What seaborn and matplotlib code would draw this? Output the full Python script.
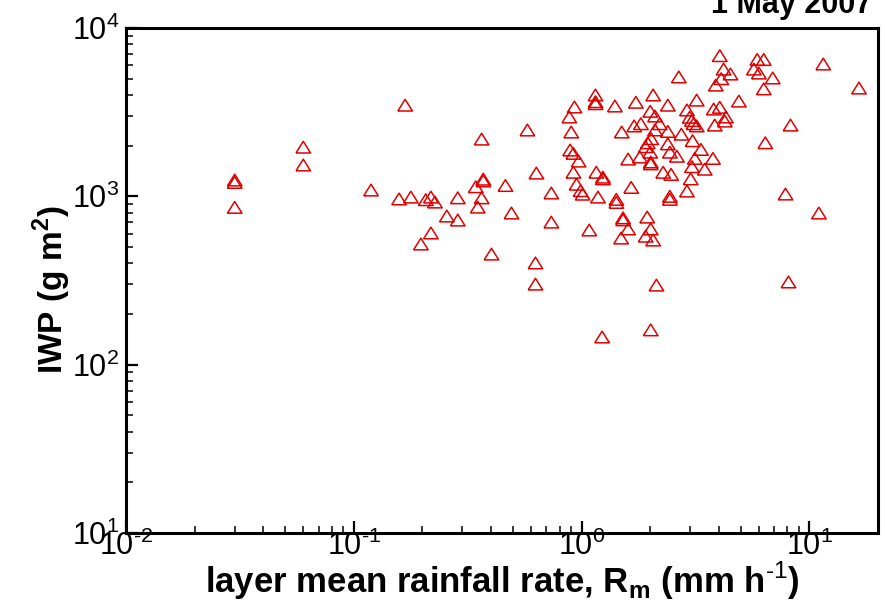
import numpy as np
import pandas as pd
import matplotlib
matplotlib.use("Agg")
import matplotlib.pyplot as plt
from matplotlib import font_manager
from matplotlib.markers import MarkerStyle
from matplotlib.ticker import LogLocator, FuncFormatter, NullFormatter
import seaborn as sns

# ---------------- data ----------------
rain_rate = [0.030, 0.030, 0.030, 0.060, 0.060, 0.119, 0.168, 0.158, 0.178, 0.207,
             0.218, 0.227, 0.197, 0.218, 0.256, 0.286, 0.286, 0.343, 0.370, 0.370,
             0.364, 0.350, 0.364, 0.402, 0.463, 0.492,
             0.578, 0.633, 0.627, 0.627, 0.736, 0.736, 0.930, 0.883, 0.900, 0.890,
             0.920, 0.970, 0.920, 0.950, 0.990, 1.010,
             1.150, 1.150, 1.150, 1.400, 1.730, 2.060, 1.160, 1.240, 1.240, 1.180,
             1.420, 1.420, 1.520, 1.520, 1.080, 1.490, 1.230, 1.500, 1.700, 1.820,
             1.600, 1.800, 1.650, 1.600,
             2.000, 2.100, 2.200, 2.100, 2.020, 1.950, 1.910, 2.000, 2.010, 2.010,
             1.940, 2.010, 1.910, 2.060, 2.130, 2.010, 2.390, 2.390, 2.390, 2.440,
             2.620, 2.280, 2.470, 2.440, 2.440, 2.670, 2.740, 2.900, 2.980, 3.050,
             3.100, 3.200, 3.070, 3.340, 3.140, 3.770, 3.050, 3.470, 3.010, 2.900,
             3.200, 3.880, 3.800, 4.040, 4.300, 4.250, 3.840, 4.900, 4.040, 4.200,
             4.500, 4.100, 5.900, 6.300, 5.700, 6.000, 6.900, 6.300, 6.400, 8.260,
             7.850, 8.090, 11.00, 11.50, 16.50]
iwp = [1250, 1210, 860, 1960, 1535, 1090, 3480, 965, 990, 955,
       990, 925, 521, 606, 764, 980, 723, 1140, 1265, 1235,
       980, 863, 2188, 454, 1160, 796,
       2478, 1375, 402, 301, 1047, 703, 3395, 2960, 2410, 1884,
       1800, 1620, 1390, 1180, 1080, 1030,
       4000, 3650, 3550, 3440, 3620, 4000, 1390, 1300, 1270, 990,
       960, 920, 745, 725, 631, 565, 146, 2410, 2620, 2700,
       1665, 1713, 1130, 640,
       3200, 3000, 2700, 2480, 2200, 2080, 1970, 1830, 1600, 1560,
       753, 640, 580, 550, 297, 161, 3480, 2430, 2050, 1830,
       1730, 1390, 1350, 1000, 960, 5120, 2340, 3260, 2950, 2820,
       2700, 2620, 2140, 1900, 1680, 1680, 1500, 1450, 1270, 1075,
       3730, 4580, 3300, 3380, 2960, 2800, 2650, 3680, 6850, 5700,
       5330, 5000, 6500, 6500, 5700, 5400, 5050, 4350, 2080, 2650,
       1032, 310, 796, 6110, 4400]

x_limits = [1e-2, 20]
y_limits = [1e1, 1e4]
title_text = "1 May 2007"
xlabel_text = r"layer mean rainfall rate, R$_{\mathregular{m}}$ (mm h$^{\text{-1}}$)"
ylabel_text = r"IWP (g m$^{\mathregular{2}}$)"

# ---------------- style ----------------
sns.set_theme(style="white")
avail = {f.name for f in font_manager.fontManager.ttflist}
NARROW = "Liberation Sans Narrow" if "Liberation Sans Narrow" in avail else "Liberation Sans"
plt.rcParams["font.family"] = ["Liberation Sans", "DejaVu Sans"]
plt.rcParams["axes.unicode_minus"] = False
plt.rcParams["mathtext.fontset"] = "custom"
plt.rcParams["mathtext.rm"] = "Liberation Sans"
plt.rcParams["mathtext.bf"] = "Liberation Sans:bold"


def pow10(v, pos):
    e = int(round(np.log10(v)))
    es = r"\text{-}%d" % abs(e) if e < 0 else "%d" % e
    return r"$\mathregular{10^{%s}}$" % es


RED = "#e00000"

fig = plt.figure(figsize=(8.85, 6.13), dpi=100)
ax = fig.add_axes([126 / 885, 80 / 613, 752 / 885, 505 / 613])

df = pd.DataFrame({"rain": rain_rate, "iwp": iwp})
tri = MarkerStyle([(-1, -0.8), (1, -0.8), (0, 0.8), (-1, -0.8)])
sns.scatterplot(data=df, x="rain", y="iwp", marker=tri, s=110,
                facecolor="none", edgecolor=RED, linewidth=1.1,
                legend=False, ax=ax, zorder=3)

ax.set_xscale("log")
ax.set_yscale("log")
ax.set_xlim(*x_limits)
ax.set_ylim(*y_limits)

for a in (ax.xaxis, ax.yaxis):
    a.set_major_locator(LogLocator(base=10, numticks=10))
    a.set_minor_locator(LogLocator(base=10, subs=np.arange(2, 10), numticks=20))
    a.set_major_formatter(FuncFormatter(pow10))
    a.set_minor_formatter(NullFormatter())

for s in ax.spines.values():
    s.set_visible(True)
    s.set_color("black")
    s.set_linewidth(2.2)

ax.tick_params(which="both", direction="in", top=False, right=False,
               left=True, bottom=True, color="black")
ax.tick_params(which="major", length=8.5, width=1.6)
ax.tick_params(which="minor", length=5, width=1.1)
ax.tick_params(axis="y", labelsize=22, pad=5, labelcolor="black")
ax.tick_params(axis="x", labelsize=22, pad=-2, labelcolor="black",
               labelfontfamily=NARROW)

ax.set_xlabel(xlabel_text, fontsize=25, fontweight="bold", family=NARROW,
              color="black", va="baseline")
ax.xaxis.set_label_coords(0.5, (533 - 593) / 505)
ax.set_ylabel(ylabel_text, fontsize=24, fontweight="bold", color="black",
              va="center")
ax.yaxis.set_label_coords((52 - 126) / 752, (533 - 290) / 505)

fig.text(872 / 885, 1 - 13 / 613, title_text, ha="right", va="baseline",
         fontsize=22, fontweight="bold", color="black")

fig.savefig("out.png", dpi=100)
